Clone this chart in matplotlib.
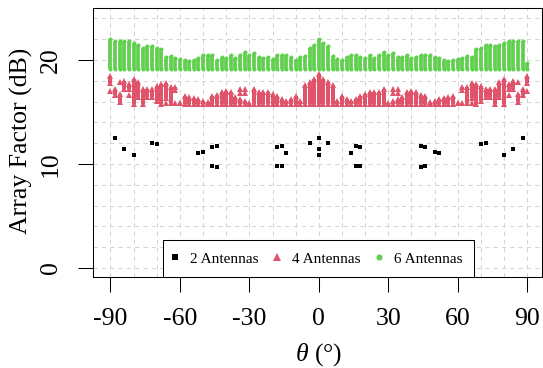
import matplotlib
matplotlib.use('Agg')
import matplotlib.pyplot as plt
from matplotlib.lines import Line2D

# ---------------- data ----------------
angles = list(range(-90, 92, 2))  # scan angle grid (deg)

# 6 antennas: columns of points from a common floor up to a top value
green_low = 19.13
green_top = [22.05, 21.85, 21.85, 21.80, 21.85, 21.65, 21.45, 21.20, 21.35, 21.35,
             21.20, 21.05, 20.25, 20.40, 20.15, 20.05, 20.00, 19.90, 20.00, 20.15,
             20.45, 20.50, 20.50, 20.00, 20.25, 20.15, 20.45, 20.15, 20.45, 20.75,
             20.45, 20.65, 20.30, 20.15, 20.25, 20.10, 20.45, 20.50, 20.45, 20.25,
             20.00, 20.30, 20.40, 21.20, 21.45, 22.00,
             21.60, 21.30, 20.40, 20.05, 20.00, 20.30, 20.45, 20.50, 20.25, 20.15,
             20.45, 20.15, 20.45, 20.75, 20.45, 20.65, 20.30, 20.25, 20.45, 20.15,
             20.25, 20.45, 20.50, 20.45, 20.25, 20.15, 20.00, 19.90, 20.00, 20.05,
             20.15, 20.40, 20.25, 21.05, 21.20, 21.40, 21.45, 21.30, 21.45, 21.65,
             21.85, 21.85, 21.85, 21.85, 19.70]

# 4 antennas: main column (low..top) per angle plus isolated extra points
red_low = [17.80, 16.60, 16.00, 17.20, 17.20, 15.80, 16.40, 15.80, 16.40, 16.40,
           16.10, 15.80, 16.30, 15.90, 17.10, 15.90, 15.80, 15.80, 15.80, 15.80,
           15.80, 15.80, 15.80, 15.80, 15.80, 15.80, 15.80, 15.80, 15.80, 15.80,
           15.80, 15.80, 15.80, 15.80, 15.80, 15.80, 15.80, 15.80, 15.80, 15.80,
           15.80, 15.80, 15.80, 15.80, 15.80, 15.80,
           15.80, 15.80, 15.80, 15.80, 15.80, 15.80, 15.80, 15.80, 15.80, 15.80,
           15.80, 15.80, 15.80, 15.80, 15.80, 15.80, 15.80, 15.80, 15.80, 15.80,
           15.80, 15.80, 15.80, 15.80, 15.80, 15.80, 15.80, 15.80, 15.80, 15.90,
           17.10, 15.90, 16.30, 15.80, 16.10, 16.40, 16.40, 15.80, 16.40, 15.80,
           17.20, 17.20, 16.00, 16.60, 17.80]
red_top = [18.45, 17.20, 16.70, 18.00, 17.70, 18.20, 17.90, 17.20, 17.20, 17.20,
           17.50, 17.70, 17.80, 17.40, 17.40, 15.90, 16.55, 16.40, 16.35, 16.25,
           16.10, 15.95, 16.55, 16.65, 16.90, 17.05, 16.90, 16.40, 16.25, 16.10,
           15.90, 17.20, 16.90, 16.90, 16.90, 16.75, 16.55, 16.25, 16.10, 16.25,
           16.55, 16.10, 17.55, 17.85, 18.20, 18.65,
           18.20, 17.85, 17.55, 16.10, 16.55, 16.25, 16.10, 16.25, 16.55, 16.75,
           16.90, 16.90, 16.90, 17.20, 15.90, 16.10, 16.25, 16.40, 16.90, 17.05,
           16.90, 16.65, 16.55, 15.95, 16.10, 16.25, 16.35, 16.40, 16.55, 15.90,
           17.40, 17.40, 17.80, 17.70, 17.50, 17.20, 17.20, 17.20, 17.90, 18.20,
           17.70, 18.00, 16.70, 17.20, 18.45]
red_extra_angle = [-90, -86, -82, -66, -62, -34, -34, -32, -32,
                   32, 32, 34, 34, 62, 66, 82, 86, 90]
red_extra_db = [17.05, 17.90, 16.60, 15.90, 15.90, 17.20, 16.80, 17.20, 16.80,
                17.20, 16.80, 17.20, 16.80, 15.90, 15.90, 16.60, 17.90, 17.05]

# 2 antennas: individual points
black_angle = [-88, -84, -80, -72, -70, -52, -50, -46, -46, -44, -44,
               -18, -18, -16, -16, -14, -4, 0, 0, 0, 4, 14, 16, 16, 18, 18,
               44, 44, 46, 46, 50, 52, 70, 72, 80, 84, 88]
black_db = [12.50, 11.45, 10.90, 12.05, 11.90, 11.10, 11.20, 11.65, 9.85, 11.75, 9.75,
            11.65, 9.85, 11.75, 9.85, 11.10, 12.00, 12.50, 11.45, 10.85, 12.00,
            11.10, 11.75, 9.85, 11.65, 9.85,
            11.75, 9.75, 11.65, 9.85, 11.20, 11.10, 11.90, 12.05, 10.90, 11.45, 12.50]

series_labels = ['2 Antennas', '4 Antennas', '6 Antennas']
x_ticks = [-90, -60, -30, 0, 30, 60, 90]
x_tick_labels = ['-90', '-60', '-30', '0', '30', '60', '90']
y_ticks = [0, 10, 20]
y_tick_labels = ['0', '10', '20']

# ---------------- style ----------------
BLACK = '#000000'
RED = '#DF536B'
GREEN = '#61D04F'
GRID = '#D3D3D3'

plt.rcParams['font.family'] = ['Liberation Serif', 'DejaVu Serif']
plt.rcParams['mathtext.fontset'] = 'custom'
plt.rcParams['mathtext.rm'] = 'Liberation Serif'
plt.rcParams['mathtext.it'] = 'Liberation Serif:italic'

W, H = 543, 368
fig = plt.figure(figsize=(W / 100, H / 100), dpi=100)
L, R, T, B = 93, 541.5, 8.5, 277
ax = fig.add_axes([L / W, 1 - B / H, (R - L) / W, (B - T) / H])
ax.set_xlim(-97.52, 96.17)
ax.set_ylim(-0.865, 24.95)

# grid
for gx in range(-90, 91, 10):
    ax.axvline(gx, color=GRID, lw=0.75, ls=(0, (4, 4)), zorder=0)
for gy in range(0, 25, 2):
    ax.axhline(gy, color=GRID, lw=0.75, ls=(0, (4, 4)), zorder=0)

# 6 antennas
ax.vlines(angles, [green_low] * len(angles), green_top, colors=GREEN, lw=2.7, zorder=2)
ax.plot(angles, green_top, ls='none', marker='o', ms=2.9, mew=0, color=GREEN, zorder=2)
ax.plot(angles, [green_low] * len(angles), ls='none', marker='o', ms=2.9, mew=0,
        color=GREEN, zorder=2)

# 4 antennas
ax.vlines(angles, red_low, red_top, colors=RED, lw=2.9, zorder=2)
ax.plot(angles, red_top, ls='none', marker='^', ms=4.0, mew=0, color=RED, zorder=2)
ax.plot(angles, red_low, ls='none', marker='^', ms=4.0, mew=0, color=RED, zorder=2)
ax.plot(red_extra_angle, red_extra_db, ls='none', marker='^', ms=4.0, mew=0,
        color=RED, zorder=2)

# 2 antennas
ax.plot(black_angle, black_db, ls='none', marker='s', ms=3.0, mew=0, color=BLACK, zorder=3)

# axes
for s in ax.spines.values():
    s.set_linewidth(0.75)
    s.set_color('black')
ax.set_xticks(x_ticks)
ax.set_xticklabels(x_tick_labels)
ax.set_yticks(y_ticks)
ax.set_yticklabels(y_tick_labels, rotation=90, va='center')
ax.tick_params(direction='out', length=10.8, width=0.75, pad=11.5, labelsize=18.5)

fig.text(318.8 / W, 1 - 355 / H, r'$\theta$ (°)', ha='center', va='center', fontsize=18.5)
fig.text(21 / W, 1 - 141 / H, 'Array Factor (dB)', ha='center', va='center',
         rotation=90, fontsize=18.5)

handles = [Line2D([], [], ls='none', marker='s', color=BLACK, ms=3.8, mew=0),
           Line2D([], [], ls='none', marker='^', color=RED, ms=5.5, mew=0),
           Line2D([], [], ls='none', marker='o', color=GREEN, ms=4.4, mew=0)]
leg = ax.legend(handles, series_labels, loc='lower center',
                bbox_to_anchor=((318.7 - L) / (R - L), 0), bbox_transform=ax.transAxes,
                ncol=3, fontsize=11, frameon=True, fancybox=False, edgecolor='black',
                framealpha=1, borderaxespad=0, borderpad=0.75, handlelength=0.07,
                handletextpad=0.95, columnspacing=1.16)
leg.get_frame().set_linewidth(0.75)

fig.savefig('out.png', dpi=100)
